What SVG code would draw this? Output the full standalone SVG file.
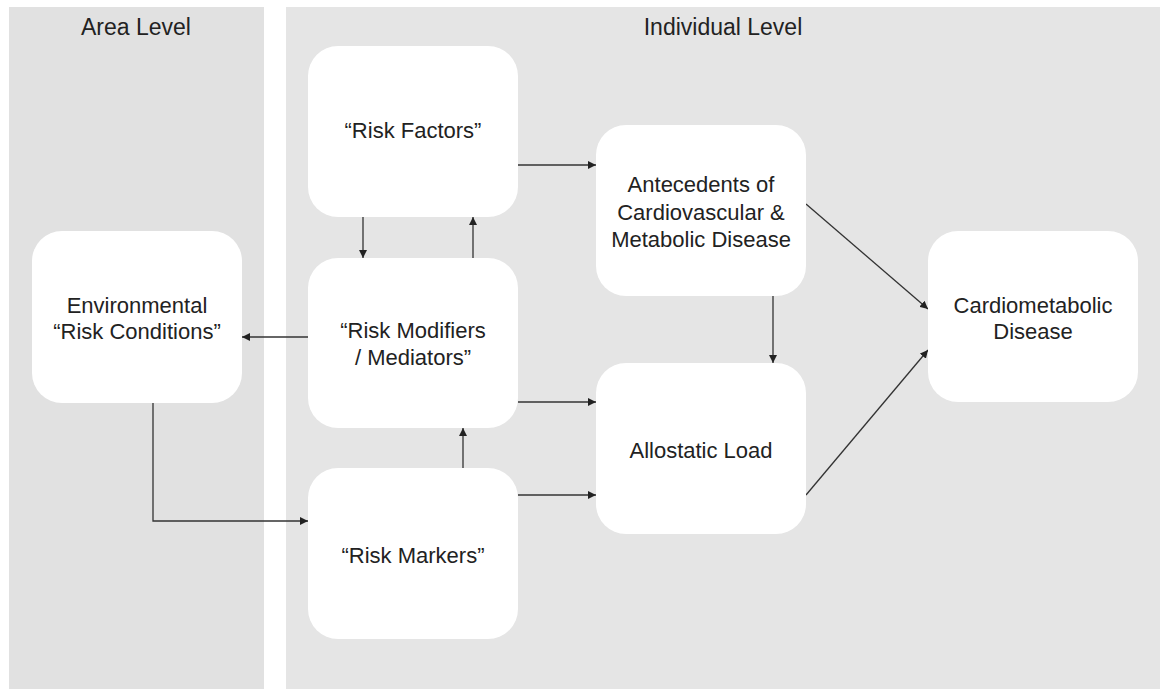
<svg xmlns="http://www.w3.org/2000/svg" width="1160" height="689" viewBox="0 0 1160 689">
<style>
.node rect{fill:#ffffff}
.t{font-family:"Liberation Sans",Arial,sans-serif;font-size:22px;fill:#222;text-anchor:middle}
.h{font-family:"Liberation Sans",Arial,sans-serif;font-size:23px;fill:#222;text-anchor:middle}
.c{fill:none;stroke:#333;stroke-width:1.3;marker-end:url(#ah)}
</style>
<defs>
<marker id="ah" viewBox="0 0 10 10" refX="10" refY="5" markerWidth="8" markerHeight="8" markerUnits="userSpaceOnUse" orient="auto">
<path d="M0,0 L10,5 L0,10 z" fill="#222"/>
</marker>
</defs>
<rect x="0" y="0" width="1160" height="689" fill="#ffffff"/>
<g id="panels">
<rect x="9" y="7" width="255" height="682" fill="#e1e1e1"/>
<rect x="286" y="7" width="874" height="682" fill="#e5e5e5"/>
<text class="h" x="136" y="35">Area Level</text>
<text class="h" x="723" y="35">Individual Level</text>
</g>
<g id="connectors">
<line class="c" x1="518" y1="165" x2="596" y2="165"/>
<line class="c" x1="363" y1="217" x2="363" y2="258"/>
<line class="c" x1="473" y1="258" x2="473" y2="217"/>
<line class="c" x1="308" y1="337" x2="242" y2="337"/>
<line class="c" x1="518" y1="402" x2="596" y2="402"/>
<line class="c" x1="518" y1="495" x2="596" y2="495"/>
<line class="c" x1="463" y1="468" x2="463" y2="428"/>
<polyline class="c" points="153,403 153,521 308,521"/>
<line class="c" x1="773" y1="296" x2="773" y2="363"/>
<line class="c" x1="806" y1="204" x2="928" y2="309"/>
<line class="c" x1="806" y1="495" x2="928" y2="350"/>
</g>
<g id="risk-factors" class="node">
<rect x="308" y="46" width="210" height="171" rx="30"/>
<text class="t" x="413" y="138">“Risk Factors”</text>
</g>
<g id="risk-modifiers" class="node">
<rect x="308" y="258" width="210" height="170" rx="30"/>
<text class="t" x="413" y="338">“Risk Modifiers</text>
<text class="t" x="413" y="365">/ Mediators”</text>
</g>
<g id="risk-markers" class="node">
<rect x="308" y="468" width="210" height="171" rx="30"/>
<text class="t" x="413" y="563">“Risk Markers”</text>
</g>
<g id="environmental" class="node">
<rect x="32" y="231" width="210" height="172" rx="30"/>
<text class="t" x="137" y="313">Environmental</text>
<text class="t" x="137" y="339">“Risk Conditions”</text>
</g>
<g id="antecedents" class="node">
<rect x="596" y="125" width="210" height="171" rx="30"/>
<text class="t" x="701" y="192">Antecedents of</text>
<text class="t" x="701" y="220">Cardiovascular &amp;</text>
<text class="t" x="701" y="247">Metabolic Disease</text>
</g>
<g id="allostatic" class="node">
<rect x="596" y="363" width="210" height="171" rx="30"/>
<text class="t" x="701" y="458">Allostatic Load</text>
</g>
<g id="cardiometabolic" class="node">
<rect x="928" y="231" width="210" height="171" rx="30"/>
<text class="t" x="1033" y="313">Cardiometabolic</text>
<text class="t" x="1033" y="339">Disease</text>
</g>
</svg>
